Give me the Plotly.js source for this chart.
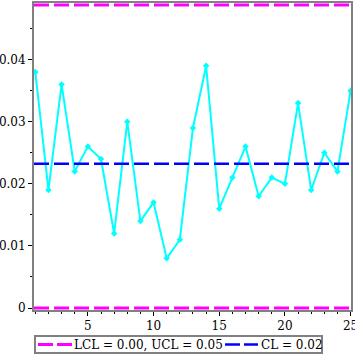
<!DOCTYPE html>
<html><head><meta charset="utf-8">
<script src="https://cdn.plot.ly/plotly-3.0.1.min.js"></script>
<style>html,body{margin:0;padding:0;background:#fff}#c{width:355px;height:355px}</style>
</head><body><div id="c"></div>
<script>
const sampleNo = Array.from({length:25},(_,i)=>i+1);
const proportion = [0.038,0.019,0.036,0.022,0.026,0.024,0.012,0.030,0.014,0.017,0.008,0.011,0.029,0.039,0.016,0.021,0.026,0.018,0.021,0.020,0.033,0.019,0.025,0.022,0.035];
const lcl = 0.0;
const ucl = 0.0488;
const cl = proportion.reduce((a,b)=>a+b,0)/proportion.length;
const limitLabel = 'LCL = '+lcl.toFixed(2)+', UCL = '+ucl.toFixed(2);
const centerLabel = 'CL = '+cl.toFixed(2);
const xRange = [0.9, 25.03];
const yRange = [-0.00032, 0.04912];
const serif = 'DejaVu Serif';

// plot area in pixels (for legend placement)
const W = 355, H = 355, mL = 34, mR = 4, mT = 3, mB = 45;
const pw = W - mL - mR, ph = H - mT - mB;
const px = p => (p - mL) / pw;
const py = p => (H - mB - p) / ph;

const magenta = '#ff00ff', blue = '#0000ff', cyan = '#00ffff', gray = '#808080';

const traces = [
  {x:sampleNo, y:proportion, mode:'lines+markers', type:'scatter', showlegend:false,
   line:{color:cyan, width:2}, marker:{symbol:'diamond', size:5, color:cyan}},
  {x:[xRange[0],xRange[1],null,xRange[0],xRange[1]], y:[lcl,lcl,null,ucl,ucl], mode:'lines', type:'scatter',
   name:limitLabel, showlegend:false,
   line:{color:magenta, width:3, dash:'15px,5px'}},
  {x:[xRange[0],xRange[1]], y:[cl,cl], mode:'lines', type:'scatter',
   name:centerLabel, showlegend:false,
   line:{color:blue, width:2.5, dash:'15px,5px'}}
];

const legY = 344.5;
const shapes = [
  {type:'rect', xref:'paper', yref:'paper', x0:px(35), x1:px(322), y0:py(336), y1:py(353),
   line:{color:gray, width:2}, fillcolor:'rgba(0,0,0,0)'},
  {type:'line', xref:'paper', yref:'paper', x0:px(38), x1:px(72), y0:py(legY), y1:py(legY),
   line:{color:magenta, width:3, dash:'15px,4px'}},
  {type:'line', xref:'paper', yref:'paper', x0:px(225), x1:px(258), y0:py(legY), y1:py(legY),
   line:{color:blue, width:2.5, dash:'15px,4px'}}
];
const annotations = [
  {xref:'paper', yref:'paper', x:px(72), y:py(legY), xanchor:'left', yanchor:'middle', showarrow:false,
   text:limitLabel, font:{family:serif, size:12, color:'#000'}},
  {xref:'paper', yref:'paper', x:px(259), y:py(legY), xanchor:'left', yanchor:'middle', showarrow:false,
   text:centerLabel, font:{family:serif, size:12, color:'#000'}}
];

const layout = {
  width:W, height:H,
  margin:{l:mL, r:mR, t:mT, b:mB, autoexpand:false},
  paper_bgcolor:'#fff', plot_bgcolor:'#fff',
  font:{family:serif, size:12, color:'#000'},
  showlegend:false,
  shapes:shapes, annotations:annotations,
  xaxis:{range:xRange, showgrid:false, zeroline:false, showline:true, linecolor:gray, linewidth:2, mirror:true,
    tick0:0, dtick:5, ticks:'outside', ticklen:4, tickcolor:'#000', tickwidth:1, automargin:false,
    ticklabeloverflow:'allow', tickfont:{family:serif, size:12},
    minor:{dtick:1, ticks:'outside', ticklen:2, tickcolor:'#000'}},
  yaxis:{range:yRange, showgrid:false, zeroline:false, showline:true, linecolor:gray, linewidth:2, mirror:true,
    tick0:0, dtick:0.01, ticks:'outside', ticklen:4, tickcolor:'#000', tickwidth:1, automargin:false,
    tickfont:{family:serif, size:12},
    minor:{dtick:0.005, ticks:'outside', ticklen:2, tickcolor:'#000'}}
};
Plotly.newPlot('c', traces, layout, {staticPlot:true});
</script></body></html>
